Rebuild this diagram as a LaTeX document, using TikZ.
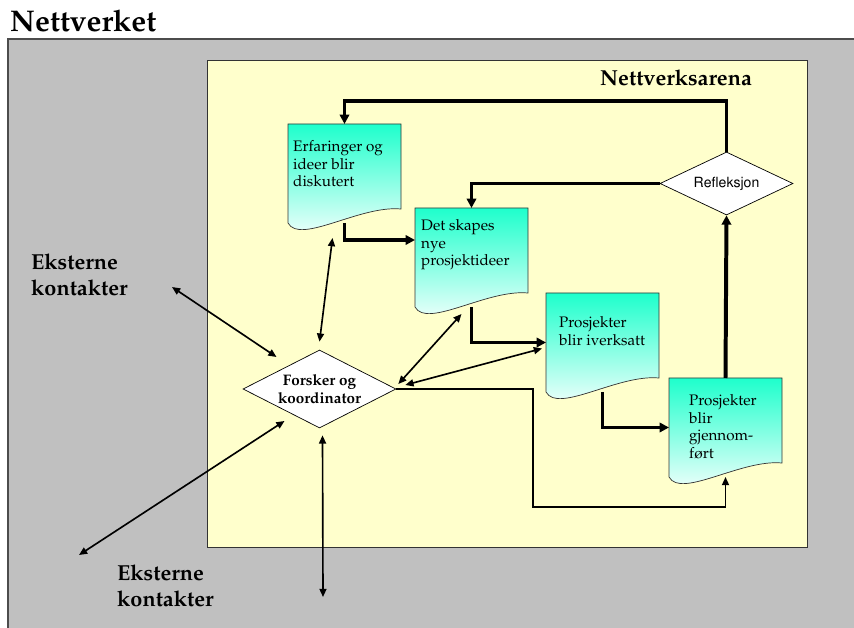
\documentclass[tikz,border=0pt]{standalone}
\usepackage[T1]{fontenc}
\renewcommand{\rmdefault}{ppl}
\usetikzlibrary{arrows.meta,shapes.geometric,backgrounds,calc}
\definecolor{netgray}{HTML}{C0C0C0}
\definecolor{arena}{HTML}{FFFFCC}
\definecolor{doctop}{HTML}{1EFFCC}
\newcommand{\pxu}{0.03cm}
\newcommand{\docbox}[4]{%
\node[docnode,anchor=north west] (#1) at (#2) {};
\begin{scope}[on background layer]
\draw[docline,top color=doctop,bottom color=white] (#1.north west)--(#1.north east)--($(#1.south east)+(0,-14)$)
 .. controls ($(#1.south east)+(-41,-18)$) and ($(#1.south west)+(12,22)$) .. (#1.south west)--cycle;
\end{scope}
\node[doctext] (#1-txt) at ($(#1.north west)+(#3)$) {#4};}
\begin{document}
\begin{tikzpicture}[x=0.03cm,y=-0.03cm,
 docnode/.style={minimum width=113*\pxu,minimum height=99*\pxu,inner sep=0,outer sep=0},
 docline/.style={draw=black!80,line width=0.6pt},
 doctext/.style={anchor=north west,inner sep=0,align=left,font=\fontsize{13}{15.2}\selectfont},
 decision/.style={diamond,draw,fill=white,line width=0.6pt,aspect=2,inner sep=0},
 flow/.style={line width=3.4pt,-{Triangle[length=8pt,width=8pt]}},
 link/.style={line width=1.5pt,-{Triangle[length=7pt,width=6pt]}},
 twoway/.style={line width=1.4pt,{Triangle[length=7pt,width=6pt]}-{Triangle[length=7pt,width=6pt]}},
 big/.style={font=\fontsize{18.5}{22}\selectfont\bfseries,align=left,inner sep=0}]
\useasboundingbox (0,0) rectangle (854,628);
\begin{scope}[on background layer]
\fill[netgray] (8,39) rectangle (854,628);
\draw[black!70,line width=1.2pt] (854,39)--(8,39)--(8,628);
\draw[fill=arena,draw=black!80,line width=0.6pt] (207,60) rectangle (807,547);
\end{scope}
\node[anchor=base west,inner sep=0,font=\fontsize{25.5}{30}\selectfont\bfseries] (title) at (10,32) {Nettverket};
\node[anchor=base,inner sep=0,font=\fontsize{18.5}{22}\selectfont\bfseries] (arena) at (676,86) {Nettverksarena};
\docbox{erf}{288,124}{5,16}{Erfaringer og\\ideer blir\\diskutert}
\docbox{det}{415,208}{6,11}{Det skapes\\nye\\prosjektideer}
\docbox{iv}{546,293}{13,23}{Prosjekter\\blir iverksatt}
\docbox{gj}{669,378}{20,16}{Prosjekter\\blir\\gjennom-\\f{\o}rt}
\node[decision,minimum width=133*\pxu,minimum height=63*\pxu,font=\fontfamily{phv}\fontsize{12}{14}\selectfont] (refl) at (726.5,183.5) {Refleksjon};
\node[decision,minimum width=153*\pxu,minimum height=78*\pxu,align=center,font=\fontsize{13}{14.8}\selectfont\bfseries] (fk) at (319.5,389) {Forsker og\\koordinator};
\node[big,anchor=north west] (ext1) at (31,254) {Eksterne\\kontakter};
\node[big,anchor=north west] (ext2) at (117,565) {Eksterne\\kontakter};
\coordinate (looptop) at (0,101);
\coordinate (bend) at (533,507);
\coordinate (e1) at (172,287);
\coordinate (e2) at (79,555);
\coordinate (e3) at (323,597);
\draw[flow] (refl.north)--(refl.north|-looptop)-|(erf.north);
\draw[flow] (refl.west)-|(det.north);
\draw[flow] (erf.south)|-($(det.north west)+(0,32)$);
\draw[flow] (det.south)|-(iv.west);
\draw[flow] (iv.south)|-(gj.west);
\draw[flow] (gj.north)--(refl.south);
\draw[link] (fk.east)-|(bend)-|(gj.south);
\draw[twoway] (e1)--($(fk)+(-43,-32)$);
\draw[twoway] (e2)--($(fk)+(-35,32)$);
\draw[twoway] (e3)--($(fk.south)+(3,7)$);
\draw[twoway] ($(fk.north)+(0,-8)$)--($(erf.south)+(-12,15)$);
\draw[twoway] ($(fk.east)+(2,-5)$)--($(det.south)+(-10,7)$);
\draw[twoway] ($(fk.east)+(9,-4)$)--($(iv.west)+(-4,6)$);
\end{tikzpicture}
\end{document}
